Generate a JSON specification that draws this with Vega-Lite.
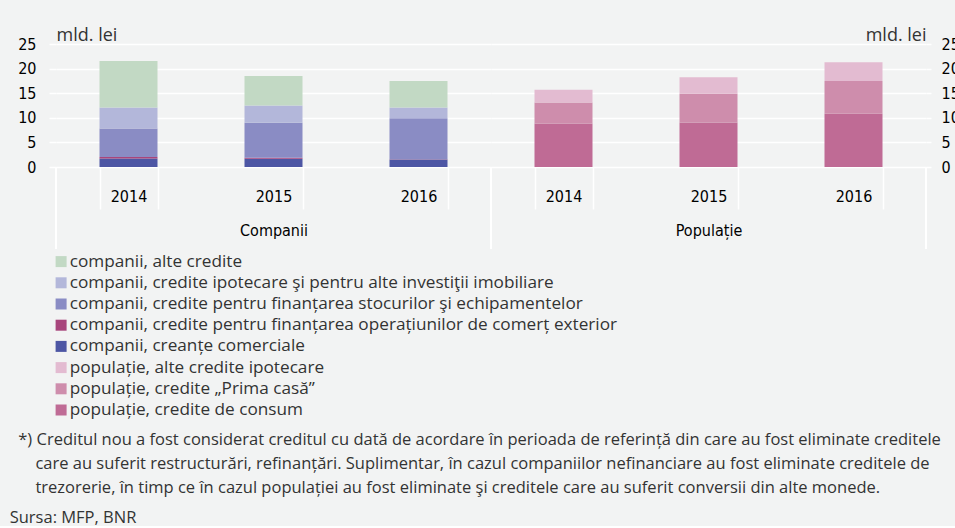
{
  "$schema": "https://vega.github.io/schema/vega-lite/v6.json",
  "background": "#f2f3f3",
  "padding": {"top": 26, "left": 9, "right": 0, "bottom": 0},
  "config": {
    "view": {"stroke": null},
    "axis": {"domain": false}
  },
  "datasets": {
    "d": [
      {"g": "Companii", "year": "2014", "series": "companii, creanțe comerciale", "v": 1.75, "n": 5},
      {"g": "Companii", "year": "2014", "series": "companii, credite pentru finanțarea operațiunilor de comerț exterior", "v": 0.3, "n": 4},
      {"g": "Companii", "year": "2014", "series": "companii, credite pentru finanțarea stocurilor şi echipamentelor", "v": 5.78, "n": 3},
      {"g": "Companii", "year": "2014", "series": "companii, credite ipotecare şi pentru alte investiţii imobiliare", "v": 4.27, "n": 2},
      {"g": "Companii", "year": "2014", "series": "companii, alte credite", "v": 9.46, "n": 1},
      {"g": "Companii", "year": "2015", "series": "companii, creanțe comerciale", "v": 1.7, "n": 5},
      {"g": "Companii", "year": "2015", "series": "companii, credite pentru finanțarea operațiunilor de comerț exterior", "v": 0.2, "n": 4},
      {"g": "Companii", "year": "2015", "series": "companii, credite pentru finanțarea stocurilor şi echipamentelor", "v": 7.1, "n": 3},
      {"g": "Companii", "year": "2015", "series": "companii, credite ipotecare şi pentru alte investiţii imobiliare", "v": 3.5, "n": 2},
      {"g": "Companii", "year": "2015", "series": "companii, alte credite", "v": 6.0, "n": 1},
      {"g": "Companii", "year": "2016", "series": "companii, creanțe comerciale", "v": 1.5, "n": 5},
      {"g": "Companii", "year": "2016", "series": "companii, credite pentru finanțarea operațiunilor de comerț exterior", "v": 0.1, "n": 4},
      {"g": "Companii", "year": "2016", "series": "companii, credite pentru finanțarea stocurilor şi echipamentelor", "v": 8.3, "n": 3},
      {"g": "Companii", "year": "2016", "series": "companii, credite ipotecare şi pentru alte investiţii imobiliare", "v": 2.2, "n": 2},
      {"g": "Companii", "year": "2016", "series": "companii, alte credite", "v": 5.4, "n": 1},
      {"g": "Populație", "year": "2014", "series": "populație, credite de consum", "v": 8.85, "n": 8},
      {"g": "Populație", "year": "2014", "series": "populație, credite „Prima casă”", "v": 4.25, "n": 7},
      {"g": "Populație", "year": "2014", "series": "populație, alte credite ipotecare", "v": 2.6, "n": 6},
      {"g": "Populație", "year": "2015", "series": "populație, credite de consum", "v": 9.05, "n": 8},
      {"g": "Populație", "year": "2015", "series": "populație, credite „Prima casă”", "v": 5.85, "n": 7},
      {"g": "Populație", "year": "2015", "series": "populație, alte credite ipotecare", "v": 3.35, "n": 6},
      {"g": "Populație", "year": "2016", "series": "populație, credite de consum", "v": 10.8, "n": 8},
      {"g": "Populație", "year": "2016", "series": "populație, credite „Prima casă”", "v": 6.7, "n": 7},
      {"g": "Populație", "year": "2016", "series": "populație, alte credite ipotecare", "v": 3.8, "n": 6}
    ]
  },
  "title": {
    "text": [
      "\u200b\u00a0\u00a0*) Creditul nou a fost considerat creditul cu dată de acordare în perioada de referință din care au fost eliminate creditele",
      "\u200b\u00a0\u00a0\u00a0\u00a0\u00a0\u00a0care au suferit restructurări, refinanțări. Suplimentar, în cazul companiilor nefinanciare au fost eliminate creditele de",
      "\u200b\u00a0\u00a0\u00a0\u00a0\u00a0\u00a0trezorerie, în timp ce în cazul populației au fost eliminate şi creditele care au suferit conversii din alte monede."
    ],
    "subtitle": "Sursa: MFP, BNR",
    "orient": "bottom",
    "anchor": "start",
    "frame": "bounds",
    "dx": -8,
    "offset": 13,
    "font": "Open Sans",
    "fontSize": 16.5,
    "fontWeight": "normal",
    "color": "#333333",
    "lineHeight": 24,
    "baseline": "top",
    "subtitleFont": "Open Sans",
    "subtitleFontSize": 16.5,
    "subtitleColor": "#333333",
    "subtitlePadding": 13
  },
  "spacing": 0,
  "bounds": "flush",
  "resolve": {"scale": {"color": "shared"}, "legend": {"color": "shared"}},
  "hconcat": [
    {
      "width": 435,
      "height": 123,
      "data": {"name": "d"},
      "transform": [{"filter": "datum.g === 'Companii'"}],
      "layer": [
        {
          "mark": {"type": "bar"},
          "encoding": {
            "x": {
              "field": "year", "type": "nominal",
              "scale": {"domain": ["2014", "2015", "2016"], "paddingInner": 0.6, "paddingOuter": 0.3},
              "axis": {
                "title": "Companii", "titleY": 63, "titleBaseline": "middle",
                "titleFont": "DejaVu Sans Condensed, sans-serif",
                "titleFontSize": 16, "titleFontWeight": "normal", "titleColor": "#000000",
                "labelAngle": 0, "labelFont": "DejaVu Sans Condensed, sans-serif",
                "labelFontSize": 16, "labelColor": "#000000",
                "ticks": true, "tickBand": "extent", "tickSize": 42, "tickColor": "#ffffff", "tickWidth": 1.5,
                "labelPadding": -21, "grid": false
              }
            },
            "y": {
              "field": "v", "type": "quantitative", "stack": "zero",
              "scale": {"domain": [0, 25], "nice": false},
              "axis": {
                "orient": "left", "values": [0, 5, 10, 15, 20, 25], "labelOverlap": false,
                "title": "mld. lei", "titleAngle": 0, "titleX": 0, "titleY": -4,
                "titleAlign": "left", "titleBaseline": "alphabetic",
                "titleFont": "Open Sans", "titleFontSize": 18, "titleFontWeight": "normal", "titleColor": "#333333",
                "labelFont": "DejaVu Sans Condensed, sans-serif",
                "labelFontSize": 16, "labelColor": "#000000", "labelPadding": 13,
                "tickSize": 7, "tickColor": "#ffffff", "tickWidth": 1.5,
                "grid": true, "gridColor": "#ffffff", "gridWidth": 1.5
              }
            },
            "color": {
              "field": "series", "type": "nominal",
              "scale": {
                "domain": [
                  "companii, alte credite",
                  "companii, credite ipotecare şi pentru alte investiţii imobiliare",
                  "companii, credite pentru finanțarea stocurilor şi echipamentelor",
                  "companii, credite pentru finanțarea operațiunilor de comerț exterior",
                  "companii, creanțe comerciale",
                  "populație, alte credite ipotecare",
                  "populație, credite „Prima casă”",
                  "populație, credite de consum"
                ],
                "range": ["#c2d9c4", "#b3b7da", "#8a8cc4", "#a8457c", "#4d56a4", "#e3bbd1", "#ce8dac", "#bf6b95"]
              },
              "legend": {
                "orient": "none", "legendX": -3.5, "legendY": 209, "direction": "vertical",
                "title": null, "symbolType": "square", "symbolSize": 121, "symbolStrokeWidth": 0,
                "labelFont": "Open Sans", "labelFontSize": 17.2, "labelColor": "#333333",
                "labelOffset": 0, "labelLimit": 0, "rowPadding": 3.2
              }
            },
            "order": {"field": "n", "sort": "descending"}
          }
        },
        {
          "mark": {"type": "rule", "color": "#ffffff", "strokeWidth": 1.5},
          "encoding": {
            "x": {"datum": "2014", "type": "nominal", "bandPosition": -0.75},
            "y": {
              "datum": 0, "type": "quantitative", "scale": {"domain": [0, 25], "nice": false},
              "axis": {
                "orient": "left", "values": [0, 5, 10, 15, 20, 25], "labelOverlap": false,
                "title": "mld. lei", "titleAngle": 0, "titleX": 0, "titleY": -4,
                "titleAlign": "left", "titleBaseline": "alphabetic",
                "titleFont": "Open Sans", "titleFontSize": 18, "titleFontWeight": "normal", "titleColor": "#333333",
                "labelFont": "DejaVu Sans Condensed, sans-serif",
                "labelFontSize": 16, "labelColor": "#000000", "labelPadding": 13,
                "tickSize": 7, "tickColor": "#ffffff", "tickWidth": 1.5,
                "grid": true, "gridColor": "#ffffff", "gridWidth": 1.5
              }
            },
            "y2": {"datum": -16.6}
          }
        }
      ]
    },
    {
      "width": 435,
      "height": 123,
      "data": {"name": "d"},
      "transform": [{"filter": "datum.g === 'Populație'"}],
      "layer": [
        {
          "mark": {"type": "bar"},
          "encoding": {
            "x": {
              "field": "year", "type": "nominal",
              "scale": {"domain": ["2014", "2015", "2016"], "paddingInner": 0.6, "paddingOuter": 0.3},
              "axis": {
                "title": "Populație", "titleY": 63, "titleBaseline": "middle",
                "titleFont": "DejaVu Sans Condensed, sans-serif",
                "titleFontSize": 16, "titleFontWeight": "normal", "titleColor": "#000000",
                "labelAngle": 0, "labelFont": "DejaVu Sans Condensed, sans-serif",
                "labelFontSize": 16, "labelColor": "#000000",
                "ticks": true, "tickBand": "extent", "tickSize": 42, "tickColor": "#ffffff", "tickWidth": 1.5,
                "labelPadding": -21, "grid": false
              }
            },
            "y": {
              "field": "v", "type": "quantitative", "stack": "zero",
              "scale": {"domain": [0, 25], "nice": false},
              "axis": {
                "orient": "right", "values": [0, 5, 10, 15, 20, 25], "labelOverlap": false,
                "title": "mld. lei", "titleAngle": 0, "titleX": 0, "titleY": -4,
                "titleAlign": "right", "titleBaseline": "alphabetic",
                "titleFont": "Open Sans", "titleFontSize": 18, "titleFontWeight": "normal", "titleColor": "#333333",
                "labelFont": "DejaVu Sans Condensed, sans-serif",
                "labelFontSize": 16, "labelColor": "#000000", "labelPadding": 10,
                "tickSize": 5, "tickColor": "#ffffff", "tickWidth": 1.5,
                "grid": true, "gridColor": "#ffffff", "gridWidth": 1.5
              }
            },
            "color": {"field": "series", "type": "nominal"},
            "order": {"field": "n", "sort": "descending"}
          }
        },
        {
          "mark": {"type": "rule", "color": "#ffffff", "strokeWidth": 1.5},
          "encoding": {
            "x": {"datum": "2014", "type": "nominal", "bandPosition": -0.75},
            "y": {
              "datum": 0, "type": "quantitative", "scale": {"domain": [0, 25], "nice": false},
              "axis": {
                "orient": "right", "values": [0, 5, 10, 15, 20, 25], "labelOverlap": false,
                "title": "mld. lei", "titleAngle": 0, "titleX": 0, "titleY": -4,
                "titleAlign": "right", "titleBaseline": "alphabetic",
                "titleFont": "Open Sans", "titleFontSize": 18, "titleFontWeight": "normal", "titleColor": "#333333",
                "labelFont": "DejaVu Sans Condensed, sans-serif",
                "labelFontSize": 16, "labelColor": "#000000", "labelPadding": 10,
                "tickSize": 5, "tickColor": "#ffffff", "tickWidth": 1.5,
                "grid": true, "gridColor": "#ffffff", "gridWidth": 1.5
              }
            },
            "y2": {"datum": -16.6}
          }
        },
        {
          "mark": {"type": "rule", "color": "#ffffff", "strokeWidth": 1.5},
          "encoding": {
            "x": {"datum": "2016", "type": "nominal", "bandPosition": 1.75},
            "y": {
              "datum": 0, "type": "quantitative", "scale": {"domain": [0, 25], "nice": false},
              "axis": {
                "orient": "right", "values": [0, 5, 10, 15, 20, 25], "labelOverlap": false,
                "title": "mld. lei", "titleAngle": 0, "titleX": 0, "titleY": -4,
                "titleAlign": "right", "titleBaseline": "alphabetic",
                "titleFont": "Open Sans", "titleFontSize": 18, "titleFontWeight": "normal", "titleColor": "#333333",
                "labelFont": "DejaVu Sans Condensed, sans-serif",
                "labelFontSize": 16, "labelColor": "#000000", "labelPadding": 10,
                "tickSize": 5, "tickColor": "#ffffff", "tickWidth": 1.5,
                "grid": true, "gridColor": "#ffffff", "gridWidth": 1.5
              }
            },
            "y2": {"datum": -16.6}
          }
        }
      ]
    }
  ]
}
